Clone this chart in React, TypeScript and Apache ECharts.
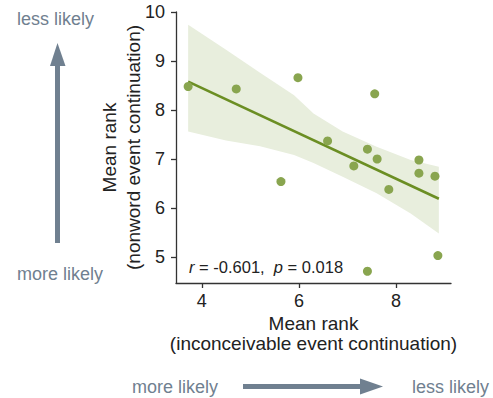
import React, { useEffect, useRef } from "react";
import * as echarts from "echarts";

// Observed data points (inconceivable vs nonword mean rank)
const pointX = [3.72, 4.71, 5.98, 5.63, 6.59, 7.56, 7.41, 7.61, 7.13, 7.85, 8.47, 8.47, 8.8, 8.86, 7.41];
const pointY = [8.48, 8.43, 8.66, 6.54, 7.37, 8.33, 7.2, 7.0, 6.86, 6.38, 6.98, 6.71, 6.65, 5.03, 4.71];

// Fitted regression line endpoints
const fitX = [3.72, 8.88];
const fitY = [8.58, 6.19];

// Confidence band
const bandX = [3.72, 4.5, 5.2, 5.9, 6.3, 6.9, 7.6, 8.3, 8.88];
const bandUpper = [9.74, 9.23, 8.76, 8.3, 7.93, 7.56, 7.25, 6.98, 6.84];
const bandLower = [7.56, 7.38, 7.26, 7.08, 6.92, 6.64, 6.3, 5.89, 5.48];

const xTicks = [4, 6, 8];
const yTicks = [5, 6, 7, 8, 9, 10];

const statsText = { r: "-0.601", p: "0.018" };

const FONT = "'Liberation Sans', Arial, Helvetica, sans-serif";
const ARROW = "#708090";
const TEXT = "#222222";

export default function App() {
  const ref = useRef<HTMLDivElement>(null);
  useEffect(() => {
    if (!ref.current) return;
    const chart = echarts.init(ref.current, undefined, { renderer: "svg" });
    const option: any = {
      animation: false,
      backgroundColor: "#ffffff",
      textStyle: { fontFamily: FONT },
      grid: { left: 176, top: 12, width: 275, height: 271, containLabel: false },
      xAxis: {
        type: "value",
        min: 3.47,
        max: 9.13,
        splitLine: { show: false },
        axisLine: { show: true, lineStyle: { color: "#333", width: 1.3 } },
        axisTick: { show: true, length: 5, inside: false, customValues: xTicks, lineStyle: { color: "#333", width: 1.3 } },
        axisLabel: { customValues: xTicks, fontSize: 18, color: TEXT, fontFamily: FONT, margin: 9 },
        name: "Mean rank\n(inconceivable event continuation)",
        nameLocation: "middle",
        nameMoveOverlap: false,
        nameGap: 30,
        nameTextStyle: { fontSize: 19, color: TEXT, fontFamily: FONT, lineHeight: 20, verticalAlign: "top" },
      },
      yAxis: {
        type: "value",
        min: 4.47,
        max: 10,
        splitLine: { show: false },
        axisLine: { show: true, lineStyle: { color: "#333", width: 1.3 } },
        axisTick: { show: true, length: 5, inside: false, customValues: yTicks, lineStyle: { color: "#333", width: 1.3 } },
        axisLabel: { customValues: yTicks, fontSize: 18, color: TEXT, fontFamily: FONT, margin: 11 },
        name: "Mean rank\n(nonword event continuation)",
        nameLocation: "middle",
        nameMoveOverlap: false,
        nameRotate: 90,
        nameGap: 30,
        nameTextStyle: { fontSize: 19, color: TEXT, fontFamily: FONT, lineHeight: 24.5 },
      },
      series: [
        {
          type: "custom",
          z: 1,
          silent: true,
          data: [[0]],
          renderItem: (_params: any, api: any) => {
            const pts: number[][] = [];
            for (let i = 0; i < bandX.length; i++) pts.push(api.coord([bandX[i], bandUpper[i]]));
            for (let i = bandX.length - 1; i >= 0; i--) pts.push(api.coord([bandX[i], bandLower[i]]));
            return { type: "polygon", shape: { points: pts }, style: { fill: "#e8eedd" } };
          },
        },
        {
          type: "line",
          z: 2,
          showSymbol: false,
          data: fitX.map((x, i) => [x, fitY[i]]),
          lineStyle: { color: "#6b8e23", width: 2.6 },
        },
        {
          type: "scatter",
          z: 3,
          symbolSize: 9,
          data: pointX.map((x, i) => [x, pointY[i]]),
          itemStyle: { color: "#89a54f", opacity: 1 },
        },
      ],
      graphic: [
        {
          type: "text",
          x: 189,
          y: 267,
          style: {
            text: `{i|r} = ${statsText.r},  {i|p} = ${statsText.p}`,
            fontSize: 16.5,
            fontFamily: FONT,
            fill: TEXT,
            verticalAlign: "middle",
            rich: { i: { fontStyle: "italic", fontSize: 16.5, fontFamily: FONT, fill: TEXT } },
          },
        },
        // vertical arrow
        { type: "rect", shape: { x: 55, y: 64, width: 5, height: 179 }, style: { fill: ARROW } },
        { type: "polygon", shape: { points: [[50, 66], [65.5, 66], [57.5, 43]] }, style: { fill: ARROW } },
        { type: "text", x: 17, y: 19, style: { text: "less likely", fontSize: 18, fontFamily: FONT, fill: ARROW, verticalAlign: "middle" } },
        { type: "text", x: 17, y: 274, style: { text: "more likely", fontSize: 18, fontFamily: FONT, fill: ARROW, verticalAlign: "middle" } },
        // horizontal arrow
        { type: "rect", shape: { x: 243, y: 384, width: 120, height: 5 }, style: { fill: ARROW } },
        { type: "polygon", shape: { points: [[360, 378.5], [360, 394.5], [383, 386.5]] }, style: { fill: ARROW } },
        { type: "text", x: 132, y: 387, style: { text: "more likely", fontSize: 18, fontFamily: FONT, fill: ARROW, verticalAlign: "middle" } },
        { type: "text", x: 412, y: 387, style: { text: "less likely", fontSize: 18, fontFamily: FONT, fill: ARROW, verticalAlign: "middle" } },
      ],
    };
    chart.setOption(option);
    return () => chart.dispose();
  }, []);
  return (
    <div style={{ position: "absolute", left: 0, top: 0 }}>
      <div ref={ref} style={{ width: 493, height: 398 }} />
    </div>
  );
}
